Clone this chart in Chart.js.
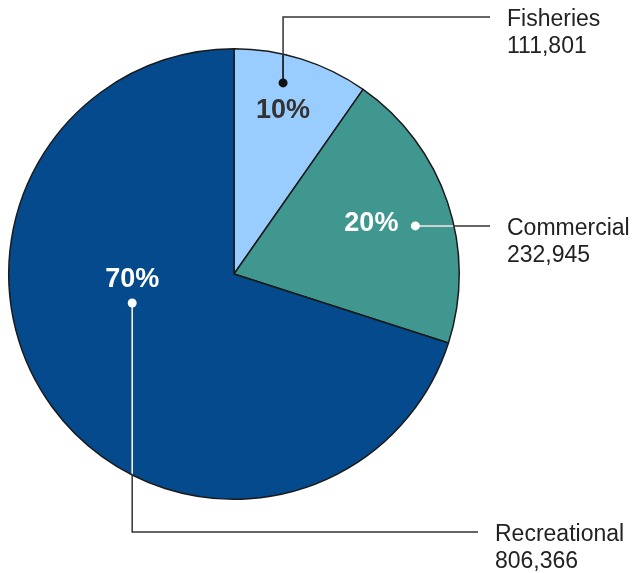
<!DOCTYPE html>
<html>
<head>
<meta charset="utf-8">
<script src="https://cdn.jsdelivr.net/npm/chart.js@4"></script>
<style>
  html, body { margin: 0; padding: 0; background: #fff; }
  #wrap { width: 640px; height: 573px; position: relative; }
</style>
</head>
<body>
<div id="wrap"><canvas id="pieChart"></canvas></div>
<script>
// data
const categories = ['Fisheries', 'Commercial', 'Recreational'];
const values = [111801, 232945, 806366];
const sliceColors = ['#99ccff', '#40978f', '#044a8c'];

// leader line layout for each slice: dot position (angle in degrees, fraction of radius),
// then the elbow steps the line takes to reach the text column
const leaders = [
  { angle: -75.6, rf: 0.876, steps: [{ y: 17 }, { x: 490 }], textX: 507, inner: '#222', dot: '#111', pct: '#333', pctDx: 0, pctDy: 28 },
  { angle: -14.85, rf: 0.833, steps: [{ x: 490 }], textX: 507, inner: '#fff', dot: '#fff', pct: '#fff', pctDx: -44, pctDy: -2 },
  { angle: 164.1, rf: 0.47, steps: [{ y: 532 }, { x: 478 }], textX: 495, inner: '#fff', dot: '#fff', pct: '#fff', pctDx: 0, pctDy: -23 }
];

const total = values.reduce((a, b) => a + b, 0);

const leaderPlugin = {
  id: 'leaders',
  afterDatasetsDraw(chart) {
    const ctx = chart.ctx;
    const arcs = chart.getDatasetMeta(0).data;
    arcs.forEach((arc, i) => {
      const cfg = leaders[i];
      const a = cfg.angle * Math.PI / 180;
      const r = arc.outerRadius * cfg.rf;
      const dx = arc.x + Math.cos(a) * r;
      const dy = arc.y + Math.sin(a) * r;

      // build the path
      const pts = [[dx, dy]];
      let cx = dx, cy = dy;
      cfg.steps.forEach(s => {
        if (s.x !== undefined) cx = s.x;
        if (s.y !== undefined) cy = s.y;
        pts.push([cx, cy]);
      });
      const tracePath = () => {
        ctx.beginPath();
        ctx.moveTo(pts[0][0], pts[0][1]);
        for (let k = 1; k < pts.length; k++) ctx.lineTo(pts[k][0], pts[k][1]);
      };

      ctx.save();
      ctx.lineWidth = 1.5;
      ctx.strokeStyle = '#333';
      tracePath();
      ctx.stroke();
      // part of the line inside the pie
      ctx.save();
      ctx.beginPath();
      ctx.arc(arc.x, arc.y, arc.outerRadius - 1, 0, Math.PI * 2);
      ctx.clip();
      ctx.strokeStyle = cfg.inner;
      tracePath();
      ctx.stroke();
      ctx.restore();

      // dot
      ctx.fillStyle = cfg.dot;
      ctx.beginPath();
      ctx.arc(dx, dy, 4.5, 0, Math.PI * 2);
      ctx.fill();

      // percentage
      ctx.fillStyle = cfg.pct;
      ctx.font = 'bold 27px "Liberation Sans", Arial, sans-serif';
      ctx.textAlign = 'center';
      ctx.textBaseline = 'middle';
      ctx.fillText(Math.round(values[i] / total * 100) + '%', dx + cfg.pctDx, dy + cfg.pctDy);

      // category + value
      ctx.fillStyle = '#222';
      ctx.font = '23px "Liberation Sans", Arial, sans-serif';
      ctx.textAlign = 'left';
      ctx.textBaseline = 'alphabetic';
      ctx.fillText(categories[i], cfg.textX, cy + 9);
      ctx.fillText(values[i].toLocaleString('en-US'), cfg.textX, cy + 36);
      ctx.restore();
    });
  }
};

const ctx = document.getElementById('pieChart').getContext('2d');
new Chart(ctx, {
  type: 'pie',
  data: {
    labels: categories,
    datasets: [{
      data: values,
      backgroundColor: sliceColors,
      borderColor: '#1a1a1a',
      borderWidth: 1.5
    }]
  },
  options: {
    responsive: true,
    maintainAspectRatio: false,
    animation: false,
    layout: { padding: { left: 8, top: 48, right: 180, bottom: 73 } },
    plugins: {
      legend: { display: false },
      tooltip: { enabled: false }
    }
  },
  plugins: [leaderPlugin]
});
</script>
</body>
</html>
